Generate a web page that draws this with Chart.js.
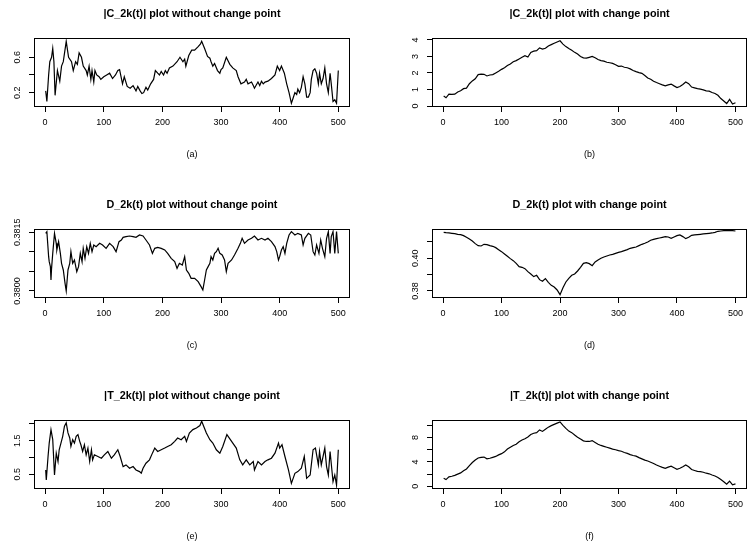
<!DOCTYPE html>
<html><head><meta charset="utf-8">
<script src="https://cdn.jsdelivr.net/npm/chart.js@4.4.0/dist/chart.umd.min.js"></script>
<style>
html,body{margin:0;padding:0;background:#fff;width:747px;height:548px;overflow:hidden;position:relative}
canvas{position:absolute}
</style></head><body>
<script>
// ---- data ----
// (a) |C_2k(t)| without change point : time index and value at visible turning points
const tA = [1,3,6,8,11,13,15,17,21,25,28,31,36,40,45,48,52,55,58,62,65,70,72,75,78,80,83,85,88,92,95,100,105,110,115,120,124,127,132,135,140,145,150,155,158,162,165,168,172,175,180,185,188,192,195,198,202,205,208,212,218,225,230,235,238,240,245,250,255,261,265,267,272,277,281,283,286,289,294,298,300,303,309,315,320,326,329,334,340,343,346,352,355,357,363,366,369,372,375,380,386,392,396,400,403,408,412,416,420,423,426,429,431,434,437,440,443,446,449,452,454,457,460,463,466,468,471,474,477,480,483,486,488,491,494,497,500];
const cNoChange = [0.22,0.1,0.4,0.55,0.6,0.7,0.55,0.17,0.45,0.33,0.5,0.55,0.78,0.6,0.55,0.45,0.55,0.52,0.65,0.6,0.5,0.45,0.4,0.5,0.35,0.45,0.32,0.45,0.4,0.38,0.35,0.38,0.4,0.42,0.36,0.4,0.45,0.46,0.3,0.38,0.27,0.25,0.28,0.22,0.27,0.22,0.19,0.2,0.26,0.23,0.3,0.35,0.45,0.42,0.4,0.44,0.4,0.45,0.42,0.48,0.5,0.55,0.6,0.55,0.58,0.5,0.62,0.68,0.68,0.72,0.75,0.78,0.7,0.61,0.59,0.55,0.5,0.53,0.45,0.42,0.46,0.48,0.6,0.52,0.48,0.45,0.38,0.3,0.32,0.35,0.3,0.32,0.28,0.25,0.32,0.28,0.33,0.3,0.32,0.33,0.36,0.4,0.5,0.45,0.5,0.42,0.3,0.2,0.08,0.14,0.2,0.18,0.24,0.2,0.26,0.38,0.3,0.15,0.15,0.2,0.35,0.45,0.47,0.42,0.3,0.42,0.3,0.36,0.48,0.3,0.2,0.42,0.3,0.1,0.12,0.08,0.45];

// (c) D_2k(t) without change point
const tC = [1,3,6,7,9,10,11,13,16,19,20,23,26,28,31,34,36,39,42,44,47,50,54,57,60,63,65,68,71,74,77,80,83,87,93,98,104,110,116,121,126,130,133,138,144,150,155,161,167,172,178,183,187,192,198,204,209,215,221,225,229,234,238,241,245,249,255,261,266,269,272,275,278,281,283,286,289,292,295,298,302,306,309,312,318,323,329,333,336,340,346,352,357,363,369,375,380,386,392,395,398,400,403,406,409,412,416,420,426,431,437,440,443,449,453,457,460,463,467,470,473,477,480,483,486,488,491,494,497,500];
const dNoChange = [0.381473,0.381516,0.380877,0.380750,0.380622,0.380281,0.380579,0.380962,0.381473,0.381218,
  0.381048,0.381261,0.380962,0.380707,0.380537,0.380196,0.380000,0.380537,0.380707,0.381005,
  0.380707,0.380792,0.380494,0.380622,0.380962,0.380750,0.381090,0.380835,0.381133,0.380962,
  0.381218,0.381005,0.381175,0.381133,0.381218,0.381175,0.381090,0.381218,0.381133,0.381005,
  0.381261,0.381303,0.381371,0.381388,0.381405,0.381388,0.381371,0.381431,0.381405,0.381303,
  0.381175,0.380962,0.381090,0.381116,0.381090,0.381048,0.380962,0.380835,0.380750,0.380579,
  0.380707,0.380664,0.380877,0.380537,0.380451,0.380324,0.380324,0.380238,0.380111,0.380026,
  0.380281,0.380537,0.380622,0.380707,0.380877,0.380792,0.380962,0.381005,0.381090,0.380962,
  0.380920,0.380792,0.380494,0.380707,0.380792,0.380920,0.381090,0.381218,0.381346,0.381218,
  0.381303,0.381346,0.381405,0.381303,0.381346,0.381303,0.381346,0.381261,0.381133,0.381005,
  0.380792,0.380877,0.381048,0.381133,0.380962,0.381218,0.381431,0.381516,0.381431,0.381473,
  0.381431,0.381175,0.381346,0.381473,0.381431,0.381005,0.380920,0.381175,0.380962,0.381303,
  0.381090,0.380877,0.381346,0.381516,0.380962,0.381388,0.381516,0.380962,0.381516,0.380962];

// (e) |T_2k(t)| without change point
const tE = [1,2,5,7,10,13,16,19,22,24,27,30,33,36,39,42,44,47,50,53,56,59,61,64,67,70,73,76,79,81,84,90,96,101,107,113,118,124,128,133,138,144,150,155,161,164,167,172,178,183,187,192,198,204,209,215,221,226,232,238,241,246,252,258,264,267,275,281,286,292,298,303,310,318,326,332,337,343,349,355,357,363,369,375,380,386,392,398,400,404,409,415,420,426,431,437,442,446,452,457,461,466,468,471,477,480,483,486,491,494,497,500];
const tNoChange = [0.63,0.33,1.03,1.43,1.83,1.53,0.48,1.13,0.88,1.23,1.43,1.63,1.93,2.03,1.73,1.58,1.33,1.53,1.43,1.63,1.68,1.48,1.38,1.18,1.38,1.08,1.28,0.88,1.23,0.93,1.08,1.03,0.98,1.08,1.18,0.98,1.08,1.23,1.03,0.73,0.78,0.68,0.73,0.63,0.58,0.53,0.68,0.83,0.93,1.13,1.28,1.18,1.23,1.28,1.33,1.38,1.48,1.58,1.53,1.63,1.48,1.73,1.83,1.88,1.95,2.08,1.73,1.53,1.43,1.23,1.13,1.33,1.68,1.48,1.28,0.93,0.78,0.93,0.78,0.88,0.63,0.88,0.78,0.88,0.93,0.98,1.13,1.43,1.28,1.38,1.03,0.63,0.23,0.53,0.58,0.68,1.03,0.38,0.48,1.23,1.28,0.78,1.18,0.78,1.28,0.73,0.48,1.18,0.28,0.48,0.18,1.23];

// (b), (d), (f): smoother series read every 5 steps
const tSmooth = [1,5,10,15,20,25,30,35,40,45,50,55,60,65,70,75,80,85,90,95,100,105,110,115,120,125,130,135,140,145,150,155,160,165,170,175,180,185,190,195,200,205,210,215,220,225,230,235,240,245,250,255,260,265,270,275,280,285,290,295,300,305,310,315,320,325,330,335,340,345,350,355,360,365,370,375,380,385,390,395,400,405,410,415,420,425,430,435,440,445,450,455,460,465,470,475,480,485,490,495,500];

const cChange = [0.6,0.5,0.72,0.7,0.72,0.85,0.92,1.05,1.08,1.35,1.52,1.65,1.9,1.93,1.92,1.82,1.88,1.9,2.0,2.1,2.22,2.32,2.45,2.55,2.68,2.75,2.85,2.95,3.05,2.97,3.25,3.32,3.35,3.52,3.45,3.5,3.64,3.72,3.8,3.88,3.95,3.75,3.6,3.48,3.38,3.25,3.15,3.0,2.92,2.9,2.95,3.0,2.92,2.82,2.75,2.72,2.65,2.62,2.58,2.5,2.4,2.42,2.35,2.32,2.25,2.15,2.08,2.02,1.98,1.85,1.7,1.62,1.5,1.42,1.35,1.28,1.22,1.28,1.33,1.22,1.12,1.18,1.3,1.45,1.35,1.15,1.1,1.05,1.02,0.98,0.92,0.9,0.82,0.76,0.65,0.45,0.3,0.15,0.4,0.12,0.2];

const dChange = [0.41592,0.41571,0.41551,0.41531,0.4151,0.41469,0.41449,0.41388,0.41286,0.41184,0.41061,0.40898,0.40776,0.40755,0.40857,0.40837,0.40776,0.40735,0.40653,0.40531,0.40408,0.40265,0.40122,0.3998,0.39857,0.39694,0.3949,0.39449,0.39367,0.39184,0.39041,0.38878,0.38959,0.38694,0.38592,0.38755,0.38531,0.38347,0.38245,0.38061,0.37776,0.38204,0.38551,0.38776,0.38959,0.39041,0.39224,0.39449,0.39694,0.39735,0.39673,0.39551,0.39776,0.39898,0.4,0.40082,0.40143,0.40204,0.40245,0.40306,0.40367,0.40408,0.40469,0.40531,0.40612,0.40653,0.40694,0.40776,0.40857,0.40918,0.41,0.41102,0.41163,0.41204,0.41245,0.41286,0.41327,0.41306,0.41224,0.41306,0.41388,0.41429,0.41327,0.41204,0.41286,0.41408,0.41429,0.41449,0.41469,0.4149,0.4151,0.41531,0.41551,0.41592,0.41653,0.41673,0.41694,0.41694,0.41694,0.41694,0.41673];

const tChange = [1.31,1.1,1.55,1.65,1.8,2.0,2.2,2.55,2.85,3.4,3.9,4.3,4.65,4.75,4.8,4.5,4.6,4.75,4.9,5.15,5.35,5.65,6.1,6.4,6.7,6.9,7.3,7.6,7.8,8.1,8.5,8.7,8.8,9.25,9.0,9.35,9.7,9.95,10.15,10.35,10.55,10.0,9.5,9.05,8.8,8.4,8.05,7.75,7.45,7.35,7.35,7.5,7.2,6.9,6.7,6.55,6.4,6.25,6.1,6.0,5.85,5.75,5.55,5.4,5.2,5.05,4.95,4.7,4.5,4.3,4.15,3.95,3.75,3.5,3.3,3.1,2.95,3.15,3.3,3.05,2.8,2.95,3.2,3.5,3.2,2.75,2.6,2.45,2.4,2.3,2.15,2.05,1.85,1.7,1.45,1.1,0.75,0.35,0.85,0.25,0.4];

const xTicks = [0,100,200,300,400,500];
const yTicksA = [0.2,0.4,0.6];           const yLabelsA = ['0.2','','0.6'];
const yTicksB = [0,1,2,3,4];             const yLabelsB = ['0','1','2','3','4'];
const yTicksC = [0.38,0.3805,0.381,0.3815]; const yLabelsC = ['0.3800','','','0.3815'];
const yTicksD = [0.38,0.39,0.40,0.41];   const yLabelsD = ['0.38','','0.40',''];
const yTicksE = [0.5,1.0,1.5,2.0];       const yLabelsE = ['0.5','','1.5',''];
const yTicksF = [0,2,4,6,8,10];          const yLabelsF = ['0','','4','','8',''];

const titles = ['|C_2k(t)| plot without change point','|C_2k(t)| plot with change point',
  'D_2k(t) plot without change point','D_2k(t) plot with change point',
  '|T_2k(t)| plot without change point','|T_2k(t)| plot with change point'];
const subLabels = ['(a)','(b)','(c)','(d)','(e)','(f)'];

// ---- layout / styling ----
const FAMILY = '"Liberation Sans", Arial, Helvetica, sans-serif';
const TICK_SIZE = 9, TITLE_SIZE = 10.8;
Chart.defaults.font.family = FAMILY;
Chart.defaults.color = '#000';

const rowsT = [38, 229, 420], rowsB = [107, 298, 489];
const cols = [{canvasLeft:0, width:373, padRight:23}, {canvasLeft:398, width:350, padRight:0}];
const TOP_BLOCK = 40, BOTTOM_BLOCK = 60, YAXIS_W = 34, TICK_LEN = 5;
const TITLE_OFFSET = 24;
const YLAB_DIST = 16;

const panels = [
  {xs:tA,      series:cNoChange, yMin:0.038, yMax:0.818, yTicks:yTicksA, yLabels:yLabelsA},
  {xs:tSmooth, series:cChange,   yMin:-0.06, yMax:4.12,  yTicks:yTicksB, yLabels:yLabelsB},
  {xs:tC,      series:dNoChange, yMin:0.379821, yMax:0.381584, yTicks:yTicksC, yLabels:yLabelsC},
  {xs:tSmooth, series:dChange,   yMin:0.37571, yMax:0.41794, yTicks:yTicksD, yLabels:yLabelsD},
  {xs:tE,      series:tNoChange, yMin:0.0625, yMax:2.116, yTicks:yTicksE, yLabels:yLabelsE},
  {xs:tSmooth, series:tChange,   yMin:-0.44, yMax:10.87, yTicks:yTicksF, yLabels:yLabelsF}
];

const meas = document.createElement('canvas').getContext('2d');
meas.font = TICK_SIZE + 'px ' + FAMILY;

const boxPlugin = {
  id: 'rbox',
  afterDraw(chart) {
    const a = chart.chartArea, ctx = chart.ctx;
    ctx.save();
    ctx.strokeStyle = '#000'; ctx.lineWidth = 1;
    ctx.strokeRect(Math.round(a.left) + 0.5, Math.round(a.top) + 0.5,
                   Math.round(a.right - a.left) - 1, Math.round(a.bottom - a.top) - 1);
    ctx.restore();
  }
};

panels.forEach((p, i) => {
  const row = Math.floor(i / 2), col = cols[i % 2];
  const T = rowsT[row], B = rowsB[row];
  const cv = document.createElement('canvas');
  const h = TOP_BLOCK + (B - T) + BOTTOM_BLOCK;
  cv.width = col.width; cv.height = h;
  cv.style.left = col.canvasLeft + 'px';
  cv.style.top = (T - TOP_BLOCK) + 'px';
  cv.style.width = col.width + 'px'; cv.style.height = h + 'px';
  document.body.appendChild(cv);

  const widest = Math.max(...p.yLabels.map(s => meas.measureText(s).width));
  const yPad = YLAB_DIST - TICK_LEN - widest / 2;
  const titleLH = TITLE_SIZE * 1.2;
  const tPadTop = TOP_BLOCK - TITLE_OFFSET - titleLH / 2;
  const tPadBottom = TOP_BLOCK - tPadTop - titleLH;

  new Chart(cv, {
    type: 'line',
    data: {
      datasets: [{
        data: p.xs.map((t, k) => ({x: t, y: p.series[k]})),
        borderColor: '#000', borderWidth: 1.2, pointRadius: 0, tension: 0, fill: false
      }]
    },
    options: {
      responsive: false, animation: false, devicePixelRatio: 1, events: [],
      layout: {padding: {left: 0, right: col.padRight, top: 0, bottom: 0}},
      plugins: {
        legend: {display: false}, tooltip: {enabled: false},
        title: {display: true, text: titles[i], fullSize: false, color: '#000',
                font: {size: TITLE_SIZE, weight: 'bold', family: FAMILY},
                padding: {top: tPadTop, bottom: tPadBottom}}
      },
      scales: {
        x: {
          type: 'linear', min: -18.96, max: 519.96,
          afterBuildTicks: s => { s.ticks = xTicks.map(v => ({value: v})); },
          afterFit: s => { s.height = BOTTOM_BLOCK; },
          grid: {drawOnChartArea: false, drawTicks: true, tickLength: TICK_LEN, color: '#000', lineWidth: 1},
          border: {display: false},
          ticks: {font: {size: TICK_SIZE}, color: '#000', padding: 5, maxRotation: 0, minRotation: 0,
                  autoSkip: false, callback: v => String(v)},
          title: {display: true, text: subLabels[i], color: '#000', font: {size: TICK_SIZE},
                  padding: {top: 0, bottom: 7}}
        },
        y: {
          type: 'linear', min: p.yMin, max: p.yMax,
          afterBuildTicks: s => { s.ticks = p.yTicks.map(v => ({value: v})); },
          afterFit: s => { s.width = YAXIS_W; },
          grid: {drawOnChartArea: false, drawTicks: true, tickLength: TICK_LEN, color: '#000', lineWidth: 1},
          border: {display: false},
          ticks: {font: {size: TICK_SIZE}, color: '#000', minRotation: 90, maxRotation: 90,
                  crossAlign: 'center', padding: yPad, autoSkip: false,
                  callback: (v, k) => p.yLabels[k]}
        }
      }
    },
    plugins: [boxPlugin]
  });
});
</script>
</body></html>
